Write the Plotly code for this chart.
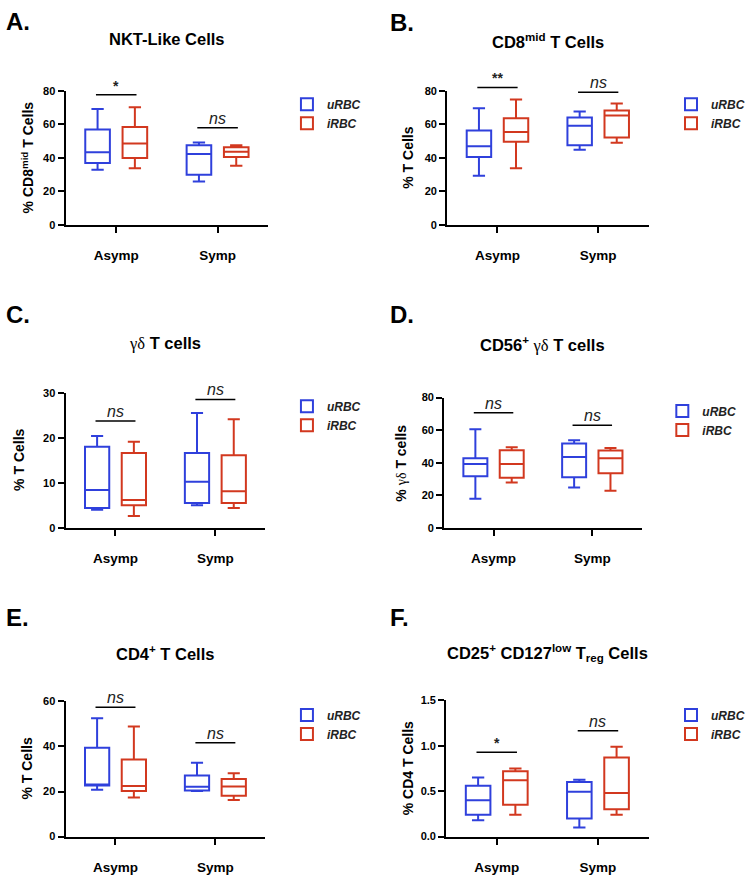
import plotly.graph_objects as go

W, H = 750, 883
BLUE = '#2F40DC'
RED = '#D2381F'
FONT = 'Liberation Sans, Arial, sans-serif'

groups = ['Asymp', 'Symp']
series_names = ['uRBC', 'iRBC']

# five-number summaries per group: [min, q1, median, q3, max]
nkt_u = [[33.0, 36.9, 43.3, 57.0, 69.2], [26.0, 30.0, 42.4, 47.5, 49.2]]
nkt_i = [[33.9, 40.0, 48.6, 58.4, 70.2], [35.3, 40.6, 43.7, 46.3, 47.6]]
cd8mid_u = [[29.4, 40.6, 46.9, 56.3, 69.6], [44.9, 47.5, 59.2, 64.1, 67.6]]
cd8mid_i = [[33.9, 49.6, 55.5, 63.7, 74.9], [49.0, 52.2, 65.3, 68.2, 72.4]]
gd_u = [[4.0, 4.4, 8.4, 18.0, 20.4], [5.0, 5.5, 10.2, 16.6, 25.5]]
gd_i = [[2.6, 5.0, 6.2, 16.6, 19.1], [4.4, 5.5, 8.1, 16.1, 24.1]]
cd56gd_u = [[17.9, 31.7, 39.2, 42.8, 60.5], [24.8, 31.1, 43.5, 51.8, 53.8]]
cd56gd_i = [[27.8, 30.7, 39.2, 47.7, 49.5], [22.7, 33.5, 42.8, 47.5, 49.1]]
cd4_u = [[20.8, 22.7, 23.1, 39.4, 52.5], [20.2, 20.5, 22.1, 27.1, 32.8]]
cd4_i = [[17.3, 20.2, 22.4, 34.2, 48.9], [16.2, 18.1, 22.2, 25.5, 28.1]]
treg_u = [[0.18, 0.24, 0.40, 0.56, 0.65], [0.10, 0.20, 0.495, 0.60, 0.626]]
treg_i = [[0.24, 0.35, 0.62, 0.72, 0.75], [0.24, 0.30, 0.48, 0.87, 0.99]]

# significance bar levels and labels per group
nkt_sig = [77.6, 58.0]
cd8mid_sig = [82.0, 79.2]
gd_sig = [23.7, 28.5]
cd56gd_sig = [70.7, 63.0]
cd4_sig = [57.4, 41.6]
treg_sig = [0.93, 1.165]

nkt_lab = ['*', 'ns']
cd8mid_lab = ['**', 'ns']
gd_lab = ['ns', 'ns']
cd56gd_lab = ['ns', 'ns']
cd4_lab = ['ns', 'ns']
treg_lab = ['*', 'ns']

SERIF = "<span style='font-family:Liberation Serif'>γδ</span>"

panels = [
    dict(letter='A.', title='<b>NKT-Like Cells</b>', ytitle='<b>% CD8<sup>mid</sup> T Cells</b>',
         u=nkt_u, i=nkt_i, sig=nkt_sig, lab=nkt_lab, ymax=80, dtick=20,
         px=(66.7, 273), py=(86, 222), ytx=28, lx=(4, 16), ty=33, leg=(292, 85)),
    dict(letter='B.', title='<b>CD8<sup>mid</sup> T Cells</b>', ytitle='<b>% T Cells</b>',
         u=cd8mid_u, i=cd8mid_i, sig=cd8mid_sig, lab=cd8mid_lab, ymax=80, dtick=20,
         px=(455, 660), py=(86, 222), ytx=415, lx=(395, 17), ty=35, leg=(683, 85)),
    dict(letter='C.', title=SERIF + '<b> T cells</b>', ytitle='<b>% T Cells</b>',
         u=gd_u, i=gd_i, sig=gd_sig, lab=gd_lab, ymax=30, dtick=10,
         px=(66.7, 270), py=(392, 529), ytx=20, lx=(4, 313), ty=342, leg=(292, 391)),
    dict(letter='D.', title='<b>CD56<sup>+</sup> </b>' + SERIF + '<b> T cells</b>',
         ytitle='<b>% </b>' + SERIF + '<b> T cells</b>',
         u=cd56gd_u, i=cd56gd_i, sig=cd56gd_sig, lab=cd56gd_lab, ymax=80, dtick=20,
         px=(452, 653), py=(397, 529), ytx=408, lx=(395, 313), ty=343, leg=(674, 396)),
    dict(letter='E.', title='<b>CD4<sup>+</sup> T Cells</b>', ytitle='<b>% T Cells</b>',
         u=cd4_u, i=cd4_i, sig=cd4_sig, lab=cd4_lab, ymax=60, dtick=20,
         px=(66.7, 270), py=(705, 842), ytx=27, lx=(4, 620), ty=656, leg=(292, 704)),
    dict(letter='F.', title='<b>CD25<sup>+</sup> CD127<sup>low</sup> T<sub>reg</sub> Cells</b>',
         ytitle='<b>% CD4 T Cells</b>',
         u=treg_u, i=treg_i, sig=treg_sig, lab=treg_lab, ymax=1.5, dtick=0.5,
         px=(454, 660), py=(704, 842), ytx=416, lx=(395, 620), ty=656, leg=(683, 704)),
]

XRANGE = [-0.5, 1.5]


def fx(p):
    return p / W


def fy(p):
    return 1 - p / H


fig = go.Figure()
annotations = []
shapes = []

for k, p in enumerate(panels):
    n = '' if k == 0 else str(k + 1)
    xa, ya = 'x' + n, 'y' + n
    leg = 'legend' + n
    for name, vals, col in [(series_names[0], p['u'], BLUE), (series_names[1], p['i'], RED)]:
        fig.add_trace(go.Box(
            x=groups,
            lowerfence=[v[0] for v in vals], q1=[v[1] for v in vals],
            median=[v[2] for v in vals], q3=[v[3] for v in vals],
            upperfence=[v[4] for v in vals],
            name='<b><i>' + name + '</i></b>', xaxis=xa, yaxis=ya, legend=leg,
            line=dict(color=col, width=2), fillcolor='white',
            whiskerwidth=0.5, boxpoints=False, offsetgroup=name,
        ))

    fig.layout['xaxis' + n] = dict(
        domain=[fx(p['px'][0]), fx(p['px'][1])], anchor=ya, type='category',
        range=XRANGE, showline=True, linewidth=2, linecolor='black',
        ticks='outside', ticklen=6, tickwidth=2, tickcolor='black',
        tickfont=dict(family=FONT, size=13.5, color='black', weight='bold'),
        ticklabelstandoff=11, showgrid=False, zeroline=False, fixedrange=True,
    )
    fig.layout['yaxis' + n] = dict(
        domain=[fy(p['py'][1]), fy(p['py'][0])], anchor=xa,
        range=[0, p['ymax']], dtick=p['dtick'], tickformat='.1f' if p['ymax'] < 2 else 'd',
        showline=True, linewidth=2, linecolor='black',
        ticks='outside', ticklen=6, tickwidth=2, tickcolor='black',
        tickfont=dict(family=FONT, size=11, color='black', weight='bold'),
        showgrid=False, zeroline=False, fixedrange=True,
    )
    fig.layout[leg] = dict(
        x=fx(p['leg'][0]), y=fy(p['leg'][1]), xanchor='left', yanchor='top',
        xref='paper', yref='paper', bgcolor='rgba(0,0,0,0)',
        font=dict(family=FONT, size=12, color='#222'), tracegroupgap=0,
    )

    # significance bars and labels (domain refs so bars above the axis top stay visible)
    span = XRANGE[1] - XRANGE[0]
    for g, (lvl, lab) in enumerate(zip(p['sig'], p['lab'])):
        yd = lvl / p['ymax']
        shapes.append(dict(type='line', xref=xa + ' domain', yref=ya + ' domain',
                           x0=(g - 0.2 - XRANGE[0]) / span, x1=(g + 0.2 - XRANGE[0]) / span,
                           y0=yd, y1=yd, line=dict(color='black', width=1.5)))
        if lab == 'ns':
            txt, fnt = '<i>ns</i>', dict(family=FONT, size=16, color='#222')
        else:
            txt, fnt = '<b>' + lab + '</b>', dict(family=FONT, size=14, color='#222')
        annotations.append(dict(text=txt, x=(g - XRANGE[0]) / span, y=yd,
                                xref=xa + ' domain', yref=ya + ' domain', showarrow=False,
                                xanchor='center', yanchor='bottom', yshift=-1, font=fnt))

    cx = (p['px'][0] + p['px'][1]) / 2
    annotations.append(dict(text=p['title'], x=fx(cx), y=fy(p['ty']), xref='paper', yref='paper',
                            showarrow=False, xanchor='center', yanchor='middle',
                            font=dict(family=FONT, size=16.5, color='black')))
    annotations.append(dict(text='<b>' + p['letter'] + '</b>', x=fx(p['lx'][0]), y=fy(p['lx'][1]),
                            xref='paper', yref='paper', showarrow=False,
                            xanchor='left', yanchor='middle',
                            font=dict(family=FONT, size=24, color='black')))
    cy = (p['py'][0] + p['py'][1]) / 2
    annotations.append(dict(text=p['ytitle'], x=fx(p['ytx']), y=fy(cy), xref='paper', yref='paper',
                            showarrow=False, xanchor='center', yanchor='middle', textangle=-90,
                            font=dict(family=FONT, size=14, color='black')))

fig.update_layout(
    width=W, height=H, margin=dict(l=0, r=0, t=0, b=0),
    paper_bgcolor='white', plot_bgcolor='white',
    boxmode='group', boxgap=0.264, boxgroupgap=0.34,
    annotations=annotations, shapes=shapes,
    font=dict(family=FONT, color='black'),
)

fig.write_html("out.html", config={'displayModeBar': False},
               post_script="document.body.style.margin='0px';document.body.style.overflow='hidden';")
